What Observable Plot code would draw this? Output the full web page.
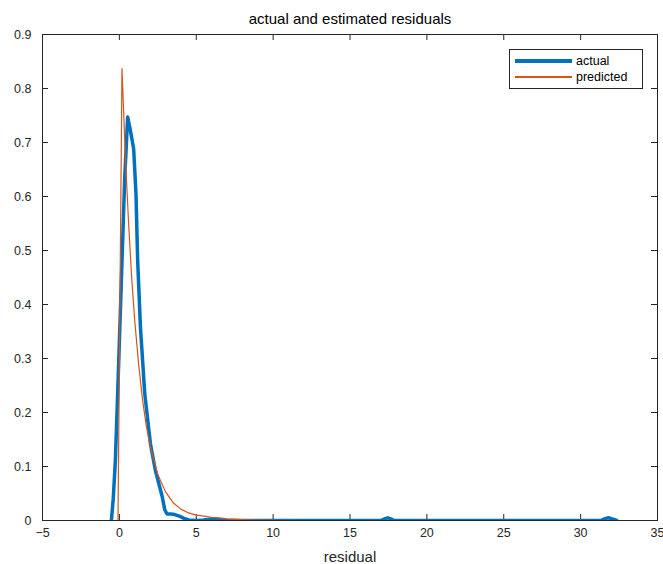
<!DOCTYPE html>
<html>
<head>
<meta charset="utf-8">
<script src="https://cdn.jsdelivr.net/npm/d3@7"></script>
<script src="https://cdn.jsdelivr.net/npm/@observablehq/plot@0.6"></script>
<style>
  html, body { margin: 0; padding: 0; background: white; }
  #wrap { position: relative; width: 663px; height: 564px; font-family: "Liberation Sans", Arial, sans-serif; }
  #legend { position: absolute; left: 509px; top: 49px; width: 132px; height: 38px; border: 1px solid #262626; background: white; box-sizing: content-box; }
  .row { position: absolute; left: 5px; height: 16px; display: flex; align-items: center; font-size: 12.5px; color: #000; }
  .sw { width: 57px; margin-right: 4px; }
</style>
</head>
<body>
<div id="wrap"></div>
<script>
const title = "actual and estimated residuals";
const xLabel = "residual";
const seriesNames = ["actual", "predicted"];
const seriesColors = ["#0072BD", "#D95319"];

const xTicks = [-5, 0, 5, 10, 15, 20, 25, 30, 35];
const yTicks = [0, 0.1, 0.2, 0.3, 0.4, 0.5, 0.6, 0.7, 0.8, 0.9];

const actualX = [-0.52, -0.4, -0.26, -0.04, 0.17, 0.35, 0.54, 0.7, 0.93, 1.08, 1.19, 1.37, 1.65, 2.02, 2.34, 2.78, 2.95, 3.1, 3.35, 3.6, 3.9, 4.2, 4.5, 5.0, 5.5, 6.0, 6.4, 6.8, 17.0, 17.25, 17.45, 17.65, 17.9, 31.3, 31.55, 31.8, 32.05, 32.35];
const actualY = [0, 0.04, 0.111, 0.296, 0.48, 0.636, 0.747, 0.725, 0.688, 0.605, 0.481, 0.358, 0.235, 0.142, 0.093, 0.045, 0.02, 0.012, 0.012, 0.011, 0.008, 0.004, 0.001, 0, 0.001, 0.003, 0.002, 0, 0, 0.003, 0.005, 0.003, 0, 0, 0.003, 0.005, 0.003, 0];

const predX = [-0.09, 0.17, 0.4, 0.6, 0.8, 1.0, 1.25, 1.5, 1.75, 2.0, 2.5, 3.0, 3.5, 4.0, 4.5, 5.0, 5.5, 6.0, 6.5, 7.0, 8.0, 9.0, 10.0, 12.0, 32.1];
const predY = [0, 0.837, 0.667, 0.55, 0.45, 0.37, 0.29, 0.225, 0.175, 0.138, 0.085, 0.053, 0.033, 0.021, 0.014, 0.010, 0.008, 0.006, 0.005, 0.003, 0.0015, 0.0008, 0.0004, 0, 0];

const actual = actualX.map((x, i) => ({x, y: actualY[i]}));
const predicted = predX.map((x, i) => ({x, y: predY[i]}));

const W = 663, H = 564, mL = 42, mR = 6, mT = 34, mB = 44;
const tickLen = 6;
const fw = W - mL - mR, fh = H - mT - mB;
const axisColor = "#262626";

const chart = Plot.plot({
  width: W, height: H,
  marginLeft: mL, marginRight: mR, marginTop: mT, marginBottom: mB,
  style: {fontFamily: "'Liberation Sans', Arial, sans-serif", fontSize: "12.5px", color: axisColor, background: "white"},
  x: {domain: [-5, 35]},
  y: {domain: [0, 0.9]},
  marks: [
    Plot.frame({stroke: axisColor, strokeWidth: 1}),
    Plot.tickX(xTicks, {x: d => d, insetTop: fh - tickLen, stroke: axisColor}),
    Plot.tickX(xTicks, {x: d => d, insetBottom: fh - tickLen, stroke: axisColor}),
    Plot.tickY(yTicks, {y: d => d, insetRight: fw - tickLen, stroke: axisColor}),
    Plot.tickY(yTicks, {y: d => d, insetLeft: fw - tickLen, stroke: axisColor}),
    Plot.axisX({ticks: xTicks, tickSize: 0, tickPadding: 8, fontSize: 12.5,
      label: null}),
    Plot.axisY({ticks: yTicks, tickSize: 0, tickPadding: 11, fontSize: 12.5,
      tickFormat: d => d === 0 ? "0" : d.toFixed(1), label: null}),
    Plot.line(actual, {x: "x", y: "y", stroke: seriesColors[0], strokeWidth: 3.5, strokeLinejoin: "round", strokeLinecap: "round", clip: true}),
    Plot.line(predicted, {x: "x", y: "y", stroke: seriesColors[1], strokeWidth: 1.2, strokeLinejoin: "round", clip: true}),
    Plot.text([title], {text: d => d, frameAnchor: "top", dy: -15, fontSize: 15, fill: "#000", lineAnchor: "middle", letterSpacing: 1}),
    Plot.text([xLabel], {text: d => d, frameAnchor: "bottom", dy: 37, fontSize: 15, fill: axisColor, lineAnchor: "middle", letterSpacing: 1})
  ]
});

const wrap = document.getElementById("wrap");
wrap.appendChild(chart);

const legend = document.createElement("div");
legend.id = "legend";
seriesNames.forEach((name, i) => {
  const row = document.createElement("div");
  row.className = "row";
  row.style.top = (i === 0 ? 3 : 19) + "px";
  const sw = document.createElement("div");
  sw.className = "sw";
  sw.style.height = (i === 0 ? 3.5 : 1.2) + "px";
  sw.style.background = seriesColors[i];
  const t = document.createElement("span");
  t.textContent = name;
  row.appendChild(sw);
  row.appendChild(t);
  legend.appendChild(row);
});
wrap.appendChild(legend);
</script>
</body>
</html>
